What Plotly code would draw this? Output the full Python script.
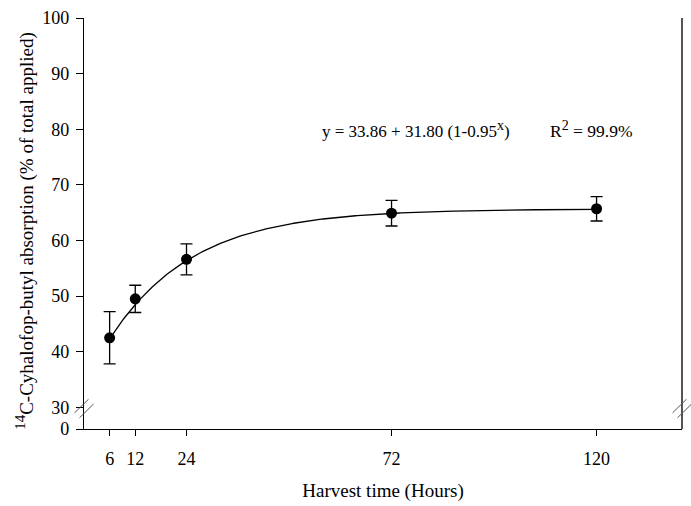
import numpy as np
import plotly.graph_objects as go

# ---- data ----
hours = [6, 12, 24, 72, 120]
absorption = [42.5, 49.5, 56.6, 64.9, 65.7]
abs_err = [4.7, 2.45, 2.8, 2.3, 2.2]

# fitted model printed on the chart: y = a + b (1 - k^x)
fit_a = 33.86
fit_b = 31.80
fit_k = 0.95

x_ticks = [6, 12, 24, 72, 120]
y_tick_vals = [30, 40, 50, 60, 70, 80, 90, 100]
y_tick_text = ["30", "40", "50", "60", "70", "80", "90", "100"]
y_break_label = "0"

# ---- layout constants ----
W, H = 691, 506
ML, MR, MT, MB = 84, 9, 8, 77
Y_BOTTOM = 26.1  # axis position where the broken "0" sits
FONT = "Liberation Serif"

fit_x = np.linspace(min(hours), max(hours), 300)
fit_y = fit_a + fit_b * (1 - fit_k ** fit_x)

fig = go.Figure()
fig.add_trace(go.Scatter(x=fit_x, y=fit_y, mode="lines",
                         line=dict(color="black", width=1.3),
                         hoverinfo="skip", showlegend=False))
fig.add_trace(go.Scatter(
    x=hours, y=absorption, mode="markers",
    marker=dict(color="black", size=11),
    error_y=dict(type="data", array=abs_err, visible=True,
                 color="black", thickness=1.3, width=6),
    showlegend=False))

pw = W - ML - MR
ph = H - MT - MB


def px_to_paper(px, py):
    return (px - ML) / pw, (H - MB - py) / ph


shapes = []
# right border line
shapes.append(dict(type="line", xref="paper", yref="paper", x0=1, x1=1, y0=0, y1=1,
                   line=dict(color="#555555", width=2)))
# break marks on left and right axes
for cx in (ML, W - MR):
    for off in (-2.5, 2.5):
        x0, y0 = px_to_paper(cx - 7 + off, 415 + off)
        x1, y1 = px_to_paper(cx + 7 + off, 401 + off)
        shapes.append(dict(type="line", xref="paper", yref="paper",
                           x0=x0, y0=y0, x1=x1, y1=y1,
                           line=dict(color="#555555", width=1)))

eq_x0, _ = px_to_paper(320, 0)
r2_x0, _ = px_to_paper(548, 0)
_, eq_y = px_to_paper(0, 122)
ttl_x, ttl_y = px_to_paper(25, 226)


def sup(t, size):
    return f"<sup><span style='font-size:{size}px'>{t}</span></sup>"


annotations = [
    dict(text="y = 33.86 + 31.80 (1-0.95" + sup("x", 14) + ")", x=eq_x0, y=eq_y,
         xref="paper", yref="paper", xanchor="left", yanchor="middle",
         showarrow=False, font=dict(family=FONT, size=17, color="black")),
    dict(text="R" + sup("2", 14) + " = 99.9%", x=r2_x0, y=eq_y,
         xref="paper", yref="paper", xanchor="left", yanchor="middle",
         showarrow=False, font=dict(family=FONT, size=17.5, color="black")),
    dict(text=sup("14", 15) + "C-Cyhalofop-butyl absorption (% of total applied)",
         x=ttl_x, y=ttl_y, xref="paper", yref="paper", textangle=-90,
         xanchor="center", yanchor="middle", showarrow=False,
         font=dict(family=FONT, size=19, color="black")),
]

fig.update_layout(
    width=W, height=H,
    margin=dict(l=ML, r=MR, t=MT, b=MB),
    paper_bgcolor="white", plot_bgcolor="white",
    font=dict(family=FONT, size=18, color="black"),
    shapes=shapes, annotations=annotations,
    xaxis=dict(range=[0, 140], tickvals=x_ticks, ticks="outside", ticklen=6,
               tickcolor="black", showline=True, linecolor="black", linewidth=1.3,
               showgrid=False, zeroline=False, ticklabelstandoff=7,
               ticklabeloverflow="allow",
               title=dict(text="Harvest time (Hours)", font=dict(size=19), standoff=15)),
    yaxis=dict(range=[Y_BOTTOM, 100], tickvals=[Y_BOTTOM] + y_tick_vals,
               ticktext=[y_break_label] + y_tick_text,
               ticks="outside", ticklen=7, tickcolor="black",
               showline=True, linecolor="black", linewidth=1.3,
               showgrid=False, zeroline=False, ticklabelstandoff=3,
               ticklabeloverflow="allow"),
)

fig.write_html("out.html", config={"displayModeBar": False},
               post_script="document.body.style.margin='0';document.body.style.overflow='hidden';")
